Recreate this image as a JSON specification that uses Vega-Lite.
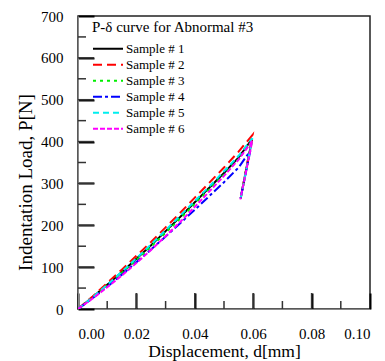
{
  "$schema": "https://vega.github.io/schema/vega-lite/v6.json",
  "autosize": "none",
  "width": 292,
  "height": 293,
  "padding": {"left": 78, "top": 16, "right": 15, "bottom": 52},
  "background": "white",
  "config": {
    "font": "Liberation Serif",
    "axis": {"labelFont": "Liberation Serif", "titleFont": "Liberation Serif"},
    "legend": {"labelFont": "Liberation Serif", "titleFont": "Liberation Serif"},
    "view": {"stroke": "#222", "strokeWidth": 1.5}
  },
  "datasets": {
    "curves": [
      {"s": "Sample # 1", "i": 0, "d": 0, "P": 0},
      {"s": "Sample # 1", "i": 1, "d": 0.005, "P": 28},
      {"s": "Sample # 1", "i": 2, "d": 0.01, "P": 58},
      {"s": "Sample # 1", "i": 3, "d": 0.015, "P": 88},
      {"s": "Sample # 1", "i": 4, "d": 0.02, "P": 120},
      {"s": "Sample # 1", "i": 5, "d": 0.025, "P": 152},
      {"s": "Sample # 1", "i": 6, "d": 0.03, "P": 186},
      {"s": "Sample # 1", "i": 7, "d": 0.035, "P": 220},
      {"s": "Sample # 1", "i": 8, "d": 0.04, "P": 255},
      {"s": "Sample # 1", "i": 9, "d": 0.045, "P": 290},
      {"s": "Sample # 1", "i": 10, "d": 0.05, "P": 325},
      {"s": "Sample # 1", "i": 11, "d": 0.055, "P": 362},
      {"s": "Sample # 1", "i": 12, "d": 0.0596, "P": 406},
      {"s": "Sample # 1", "i": 13, "d": 0.0557, "P": 264},

      {"s": "Sample # 2", "i": 0, "d": 0, "P": 0},
      {"s": "Sample # 2", "i": 1, "d": 0.005, "P": 30},
      {"s": "Sample # 2", "i": 2, "d": 0.01, "P": 62},
      {"s": "Sample # 2", "i": 3, "d": 0.015, "P": 94},
      {"s": "Sample # 2", "i": 4, "d": 0.02, "P": 127},
      {"s": "Sample # 2", "i": 5, "d": 0.025, "P": 160},
      {"s": "Sample # 2", "i": 6, "d": 0.03, "P": 195},
      {"s": "Sample # 2", "i": 7, "d": 0.035, "P": 230},
      {"s": "Sample # 2", "i": 8, "d": 0.04, "P": 266},
      {"s": "Sample # 2", "i": 9, "d": 0.045, "P": 302},
      {"s": "Sample # 2", "i": 10, "d": 0.05, "P": 338},
      {"s": "Sample # 2", "i": 11, "d": 0.055, "P": 376},
      {"s": "Sample # 2", "i": 12, "d": 0.0598, "P": 416},
      {"s": "Sample # 2", "i": 13, "d": 0.0558, "P": 268},

      {"s": "Sample # 3", "i": 0, "d": 0, "P": 0},
      {"s": "Sample # 3", "i": 1, "d": 0.005, "P": 27},
      {"s": "Sample # 3", "i": 2, "d": 0.01, "P": 56},
      {"s": "Sample # 3", "i": 3, "d": 0.015, "P": 86},
      {"s": "Sample # 3", "i": 4, "d": 0.02, "P": 117},
      {"s": "Sample # 3", "i": 5, "d": 0.025, "P": 149},
      {"s": "Sample # 3", "i": 6, "d": 0.03, "P": 182},
      {"s": "Sample # 3", "i": 7, "d": 0.035, "P": 216},
      {"s": "Sample # 3", "i": 8, "d": 0.04, "P": 251},
      {"s": "Sample # 3", "i": 9, "d": 0.045, "P": 286},
      {"s": "Sample # 3", "i": 10, "d": 0.05, "P": 321},
      {"s": "Sample # 3", "i": 11, "d": 0.055, "P": 358},
      {"s": "Sample # 3", "i": 12, "d": 0.0596, "P": 402},
      {"s": "Sample # 3", "i": 13, "d": 0.0557, "P": 266},

      {"s": "Sample # 4", "i": 0, "d": 0, "P": 0},
      {"s": "Sample # 4", "i": 1, "d": 0.005, "P": 26},
      {"s": "Sample # 4", "i": 2, "d": 0.01, "P": 53},
      {"s": "Sample # 4", "i": 3, "d": 0.015, "P": 82},
      {"s": "Sample # 4", "i": 4, "d": 0.02, "P": 112},
      {"s": "Sample # 4", "i": 5, "d": 0.025, "P": 142},
      {"s": "Sample # 4", "i": 6, "d": 0.03, "P": 173},
      {"s": "Sample # 4", "i": 7, "d": 0.035, "P": 205},
      {"s": "Sample # 4", "i": 8, "d": 0.04, "P": 237},
      {"s": "Sample # 4", "i": 9, "d": 0.045, "P": 270},
      {"s": "Sample # 4", "i": 10, "d": 0.05, "P": 303},
      {"s": "Sample # 4", "i": 11, "d": 0.055, "P": 338},
      {"s": "Sample # 4", "i": 12, "d": 0.0590, "P": 378},
      {"s": "Sample # 4", "i": 13, "d": 0.0557, "P": 265},

      {"s": "Sample # 5", "i": 0, "d": 0, "P": 0},
      {"s": "Sample # 5", "i": 1, "d": 0.005, "P": 28},
      {"s": "Sample # 5", "i": 2, "d": 0.01, "P": 58},
      {"s": "Sample # 5", "i": 3, "d": 0.015, "P": 89},
      {"s": "Sample # 5", "i": 4, "d": 0.02, "P": 121},
      {"s": "Sample # 5", "i": 5, "d": 0.025, "P": 154},
      {"s": "Sample # 5", "i": 6, "d": 0.03, "P": 188},
      {"s": "Sample # 5", "i": 7, "d": 0.035, "P": 223},
      {"s": "Sample # 5", "i": 8, "d": 0.04, "P": 258},
      {"s": "Sample # 5", "i": 9, "d": 0.045, "P": 293},
      {"s": "Sample # 5", "i": 10, "d": 0.05, "P": 329},
      {"s": "Sample # 5", "i": 11, "d": 0.055, "P": 366},
      {"s": "Sample # 5", "i": 12, "d": 0.0597, "P": 408},
      {"s": "Sample # 5", "i": 13, "d": 0.0558, "P": 267},

      {"s": "Sample # 6", "i": 0, "d": 0, "P": 0},
      {"s": "Sample # 6", "i": 1, "d": 0.005, "P": 25},
      {"s": "Sample # 6", "i": 2, "d": 0.01, "P": 52},
      {"s": "Sample # 6", "i": 3, "d": 0.015, "P": 80},
      {"s": "Sample # 6", "i": 4, "d": 0.02, "P": 110},
      {"s": "Sample # 6", "i": 5, "d": 0.025, "P": 141},
      {"s": "Sample # 6", "i": 6, "d": 0.03, "P": 174},
      {"s": "Sample # 6", "i": 7, "d": 0.035, "P": 208},
      {"s": "Sample # 6", "i": 8, "d": 0.04, "P": 244},
      {"s": "Sample # 6", "i": 9, "d": 0.045, "P": 281},
      {"s": "Sample # 6", "i": 10, "d": 0.05, "P": 318},
      {"s": "Sample # 6", "i": 11, "d": 0.055, "P": 357},
      {"s": "Sample # 6", "i": 12, "d": 0.0597, "P": 402},
      {"s": "Sample # 6", "i": 13, "d": 0.0556, "P": 262}
    ],
    "xmajor": [{"v": 0.02}, {"v": 0.04}, {"v": 0.06}, {"v": 0.08}],
    "xminor": [{"v": 0.01}, {"v": 0.03}, {"v": 0.05}, {"v": 0.07}, {"v": 0.09}],
    "ymajor": [{"v": 100}, {"v": 200}, {"v": 300}, {"v": 400}, {"v": 500}, {"v": 600}],
    "yminor": [{"v": 50}, {"v": 150}, {"v": 250}, {"v": 350}, {"v": 450}, {"v": 550}, {"v": 650}]
  },
  "resolve": {"axis": {"x": "independent", "y": "independent"}},
  "layer": [
    {
      "data": {"name": "curves"},
      "mark": {"type": "line", "strokeWidth": 2, "clip": true},
      "encoding": {
        "x": {
          "field": "d", "type": "quantitative",
          "scale": {"domain": [0, 0.1], "nice": false},
          "axis": {
            "orient": "bottom",
            "title": "Displacement, d[mm]",
            "titleFontSize": 17.5, "titleFontWeight": "normal", "titleColor": "black",
            "titleBaseline": "alphabetic", "titleY": 47,
            "values": [0, 0.02, 0.04, 0.06, 0.08, 0.1],
            "format": ".2f",
            "labelFontSize": 15, "labelColor": "black",
            "labelPadding": 33,
            "ticks": true, "tickSize": -16, "tickColor": "black", "tickWidth": 2,
            "grid": false
          }
        },
        "y": {
          "field": "P", "type": "quantitative",
          "scale": {"domain": [0, 700], "nice": false},
          "axis": {
            "orient": "left",
            "title": "Indentation Load, P[N]",
            "titleFontSize": 19, "titleFontWeight": "normal", "titleColor": "black",
            "titleBaseline": "middle", "titleX": -53, "titleY": 166,
            "values": [0, 100, 200, 300, 400, 500, 600, 700],
            "labelFontSize": 15, "labelColor": "black",
            "labelPadding": 31,
            "ticks": true, "tickSize": -16, "tickColor": "black", "tickWidth": 2,
            "grid": false
          }
        },
        "color": {
          "field": "s", "type": "nominal",
          "scale": {
            "domain": ["Sample # 1", "Sample # 2", "Sample # 3", "Sample # 4", "Sample # 5", "Sample # 6"],
            "range": ["#000000", "#ff0000", "#00ee00", "#0000ff", "#00eeee", "#ff00ff"]
          },
          "legend": {
            "title": "P-δ curve for Abnormal #3",
            "titleFontSize": 15, "titleFontWeight": "normal", "titleColor": "black",
            "titlePadding": 6,
            "orient": "none", "legendX": 14, "legendY": 4,
            "symbolType": "stroke", "symbolSize": 900, "symbolStrokeWidth": 2,
            "labelFontSize": 13, "labelColor": "black", "labelOffset": 2,
            "clipHeight": 15.5, "rowPadding": -1
          }
        },
        "strokeDash": {
          "field": "s", "type": "nominal",
          "scale": {
            "domain": ["Sample # 1", "Sample # 2", "Sample # 3", "Sample # 4", "Sample # 5", "Sample # 6"],
            "range": [[1, 0], [9, 5], [3, 4], [9, 3, 3, 3], [6, 4], [5, 2]]
          },
          "legend": null
        },
        "order": {"field": "i", "type": "quantitative"}
      }
    },
    {
      "data": {"name": "xmajor"},
      "mark": {"type": "tick", "orient": "vertical", "size": 32, "thickness": 1.5, "color": "#333", "opacity": 1, "clip": true},
      "encoding": {
        "x": {"field": "v", "type": "quantitative", "axis": null},
        "y": {"datum": 0, "type": "quantitative", "axis": null}
      }
    },
    {
      "data": {"name": "xminor"},
      "mark": {"type": "tick", "orient": "vertical", "size": 16, "thickness": 1.5, "color": "#333", "opacity": 1, "clip": true},
      "encoding": {
        "x": {"field": "v", "type": "quantitative", "axis": null},
        "y": {"datum": 0, "type": "quantitative", "axis": null}
      }
    },
    {
      "data": {"name": "ymajor"},
      "mark": {"type": "tick", "orient": "horizontal", "size": 32, "thickness": 1.5, "color": "#333", "opacity": 1, "clip": true},
      "encoding": {
        "y": {"field": "v", "type": "quantitative", "axis": null},
        "x": {"datum": 0, "type": "quantitative", "axis": null}
      }
    },
    {
      "data": {"name": "yminor"},
      "mark": {"type": "tick", "orient": "horizontal", "size": 16, "thickness": 1.5, "color": "#333", "opacity": 1, "clip": true},
      "encoding": {
        "y": {"field": "v", "type": "quantitative", "axis": null},
        "x": {"datum": 0, "type": "quantitative", "axis": null}
      }
    }
  ]
}
